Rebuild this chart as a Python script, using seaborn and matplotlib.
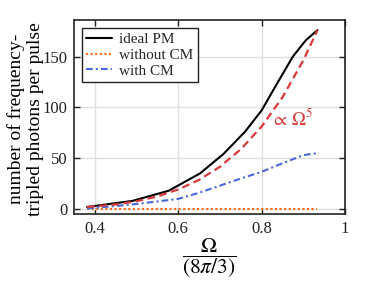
import matplotlib
matplotlib.use("Agg")
import matplotlib.pyplot as plt
import seaborn as sns
import pandas as pd

# Data
x_ideal = [0.381, 0.49, 0.577, 0.652, 0.708, 0.76, 0.80, 0.835, 0.875, 0.906, 0.934]
y_ideal = [2, 8, 18, 35, 54, 76, 97, 122, 150, 166, 176]

x_without = [0.381, 0.45, 0.5, 0.6, 0.7, 0.8, 0.9, 0.934]
y_without = [0, 0, 0, 0, 0, 0, 0, 0]

x_with = [0.381, 0.45, 0.5, 0.55, 0.6, 0.65, 0.7, 0.75, 0.8, 0.85, 0.9, 0.934]
y_with = [0.5, 3, 5, 7.5, 10, 16, 23, 30, 36.6, 45, 53, 55]

x_fit = [0.381, 0.45, 0.5, 0.55, 0.6, 0.65, 0.7, 0.75, 0.8, 0.85, 0.9, 0.934]
y_fit = [2.0, 4.5, 7.7, 12.4, 19.3, 28.7, 41.6, 58.8, 81.1, 109.9, 146.2, 176]

legend_labels = ["ideal PM", "without CM", "with CM"]
fit_label = r"$\propto\,\Omega^5$"

sns.set_theme(style="whitegrid")
plt.rcParams["font.family"] = ["Liberation Serif", "DejaVu Serif"]
plt.rcParams["mathtext.fontset"] = "stix"

fig = plt.figure(figsize=(3.82, 2.81), dpi=100)
ax = fig.add_axes([0.194, 0.238, 0.709, 0.691])

sns.lineplot(x=x_ideal, y=y_ideal, ax=ax, color="black", lw=1.5, label=legend_labels[0])
sns.lineplot(x=x_without, y=y_without, ax=ax, color="#ff6a13", lw=1.5, label=legend_labels[1])
sns.lineplot(x=x_with, y=y_with, ax=ax, color="#4a68d8", lw=1.5, label=legend_labels[2])
sns.lineplot(x=x_fit, y=y_fit, ax=ax, color="#d63a3a", lw=1.6)
ax.lines[1].set_linestyle((0, (1, 1.2)))
ax.lines[2].set_linestyle((0, (3.2, 1.5, 1, 1.5)))
ax.lines[3].set_linestyle((0, (3.5, 2)))

ax.text(0.822, 89, fit_label, color="#d63a3a", fontsize=13.5, va="center", ha="left")

ax.set_xlim(0.35, 1.0)
ax.set_ylim(-5, 186)
ax.set_xticks([0.4, 0.6, 0.8, 1.0])
ax.set_xticklabels(["0.4", "0.6", "0.8", "1"])
ax.set_yticks([0, 50, 100, 150])

ax.set_xlabel(r"$\dfrac{\Omega}{(8\pi/3)}$", fontsize=15.5, color="black", labelpad=0)
ax.set_ylabel("number of frequency-\ntripled photons per pulse", fontsize=14, color="black",
              linespacing=1.12)
ax.yaxis.set_label_coords(-0.112, 0.49)

ax.grid(True, color="#e0e0e0", lw=1)
for s in ax.spines.values():
    s.set_color("#222222")
    s.set_linewidth(1.2)
    s.set_visible(True)
ax.set_facecolor("white")
ax.tick_params(direction="in", length=4, width=1, top=True, right=True, bottom=True, left=True,
               labelsize=12, colors="#222222", labelcolor="#222222", pad=5)

leg = ax.legend(loc="upper left", fontsize=11, frameon=True, fancybox=False,
                edgecolor="#222222", framealpha=1, handlelength=1.7, handletextpad=0.45,
                borderpad=0.3, labelspacing=0.15, borderaxespad=0.5)
leg.get_frame().set_linewidth(1.0)

fig.savefig("out.png", dpi=100)
